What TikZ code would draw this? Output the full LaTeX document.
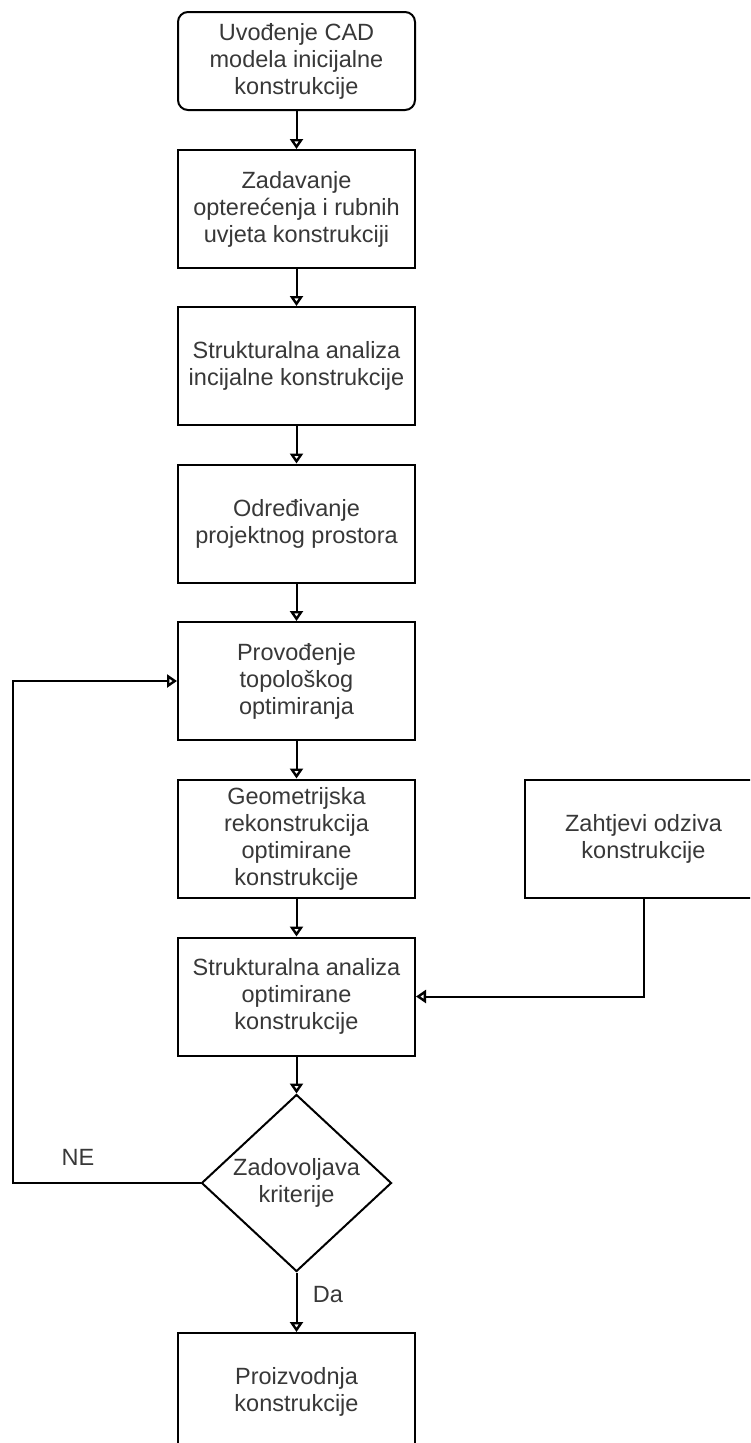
\documentclass[tikz,border=0pt]{standalone}
\usepackage{fontspec}
\setmainfont{Liberation Sans}
\usetikzlibrary{shapes.geometric,arrows.meta}
\begin{document}
\begin{tikzpicture}[x=1pt,y=-1pt,
  every node/.style={font=\fontsize{23.5}{27}\selectfont, text=black!78},
  box/.style={draw=black, line width=2pt, rectangle, minimum width=237pt, minimum height=118pt, inner sep=0pt, align=center, fill=white},
  rbox/.style={box, rounded corners=10pt, minimum height=98pt},
  dia/.style={draw=black, line width=2pt, diamond, minimum width=190pt, minimum height=177pt, inner sep=0pt, align=center, fill=white},
  arr/.style={draw=black, line width=2pt, -{Triangle[open, length=10pt, width=13pt, line width=2.4pt]}},
  conn/.style={draw=black, line width=2pt},
  lbl/.style={inner sep=0pt}
]
\useasboundingbox (0,0) rectangle (750,1443);
\clip (0,0) rectangle (750,1443);
\fill[white] (0,0) rectangle (750,1443);

\node[rbox] (b1) at (296.5,61) {Uvođenje CAD\\modela inicijalne\\konstrukcije};
\node[box] (b2) at (296.5,209) {Zadavanje\\opterećenja i rubnih\\uvjeta konstrukciji};
\node[box] (b3) at (296.5,366) {Strukturalna analiza\\incijalne konstrukcije};
\node[box] (b4) at (296.5,523.5) {Određivanje\\projektnog prostora};
\node[box] (b5) at (296.5,681) {Provođenje\\topološkog\\optimiranja};
\node[box] (b6) at (296.5,838.5) {Geometrijska\\rekonstrukcija\\optimirane\\konstrukcije};
\node[box] (b7) at (296.5,996.5) {Strukturalna analiza\\optimirane\\konstrukcije};
\node[dia] (d1) at (296.5,1183) {Zadovoljava\\kriterije};
\node[box] (b8) at (296.5,1392) {Proizvodnja\\konstrukcije};
\node[box] (req) at (643.5,839) {Zahtjevi odziva\\konstrukcije};

\coordinate (loopc) at (13,1183);

\draw[arr] (b1.south) -- (b2.north);
\draw[arr] (b2.south) -- (b3.north);
\draw[arr] (b3.south) -- (b4.north);
\draw[arr] (b4.south) -- (b5.north);
\draw[arr] (b5.south) -- (b6.north);
\draw[arr] (b6.south) -- (b7.north);
\draw[arr] (b7.south) -- (d1.north);
\draw[arr] (d1.south) -- (b8.north);
\draw[arr] (d1.west) -- (loopc) |- (b5.west);
\draw[arr] (req.south) |- (b7.east);

\node[lbl] (ne) at (78,1157) {NE};
\node[lbl] (da) at (328,1295) {Da};
\end{tikzpicture}
\end{document}
